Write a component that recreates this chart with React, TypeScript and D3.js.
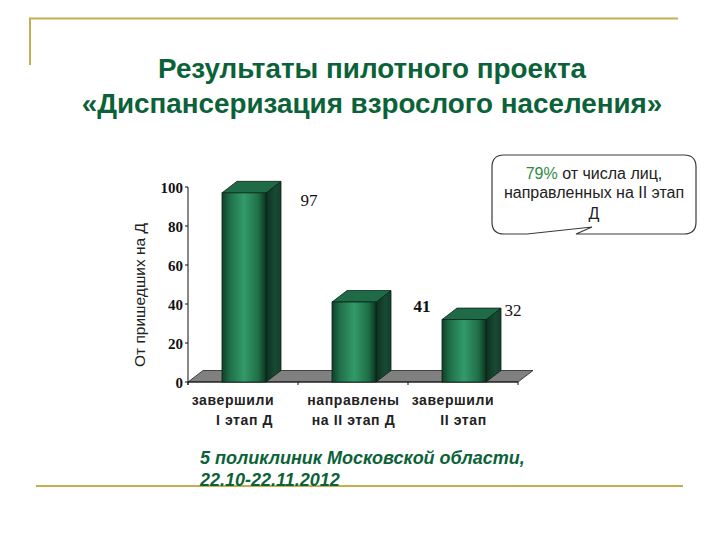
import React from "react";
import * as d3 from "d3";

const categories = ["a", "b", "c"];
const categoryLines = [["завершили", "I этап Д"], ["направлены", "на II этап Д"], ["завершили", "II этап"]];
const categoryLabelX = [[233, 244.5], [353.5, 353.5], [453, 463.5]];
const values = [97, 41, 32];
const valueLabels = ["97", "41", "32"];
const valueLabelPos = [[309, 206], [422, 312], [513, 316]];
const valueLabelWeight = ["normal", "bold", "normal"];
const yTicks = [0, 20, 40, 60, 80, 100];
const titleLines = ["Результаты пилотного проекта", "«Диспансеризация взрослого населения»"];
const calloutLines = ["от числа лиц,", "направленных на II этап", "Д"];
const noteLines = ["5 поликлиник Московской области,", "22.10-22.11.2012"];
const axisTitle = "От пришедших на Д";

const GREEN = "#0b6238";
const GOLD = "#c6ae4e";
const SANS = "'Liberation Sans', Arial, sans-serif";
const SERIF = "'Liberation Serif', 'Times New Roman', serif";

const x = d3.scaleBand<string>().domain(categories).range([188, 518]);
const y = d3.scaleLinear().domain([0, 100]).range([382, 187]);
const DX = 15;
const DY = 11.5;
const BAR = 44;
const poly = d3.line();

export default function App() {
  const floorY = y(0);
  const [xa, xb] = x.range();
  return (
    <svg width={720} height={540} style={{ position: "absolute", left: 0, top: 0, background: "#fff" }}>
      <defs>
        <linearGradient id="front" x1="0" x2="1" y1="0" y2="0">
          <stop offset="0" stopColor="#0f3f29" />
          <stop offset="0.18" stopColor="#1f7049" />
          <stop offset="0.5" stopColor="#339a69" />
          <stop offset="0.82" stopColor="#1f7049" />
          <stop offset="1" stopColor="#0c3522" />
        </linearGradient>
        <linearGradient id="side" x1="0" x2="1" y1="0" y2="0">
          <stop offset="0" stopColor="#0c3021" />
          <stop offset="0.6" stopColor="#184a33" />
          <stop offset="1" stopColor="#143f2b" />
        </linearGradient>
      </defs>

      {/* frame */}
      <path d="M30,65V18.5H678" fill="none" stroke={GOLD} strokeWidth={2} />
      <line x1={36} x2={683} y1={486} y2={486} stroke={GOLD} strokeWidth={2} />

      {/* title */}
      <g fontFamily={SANS} fontWeight="bold" fontSize={27.8} fill={GREEN} textAnchor="middle">
        {titleLines.map((t, i) => (
          <text key={i} x={372} y={78 + i * 35}>{t}</text>
        ))}
      </g>

      {/* floor */}
      <path
        d={poly([[xa, floorY], [xa + DX, floorY - DY], [xb + DX, floorY - DY], [xb, floorY]]) + "Z"}
        fill="#808080"
        stroke="#222"
        strokeWidth={0.8}
      />

      {/* axes */}
      <line x1={xa} x2={xa} y1={y(100)} y2={floorY + 3} stroke="#111" />
      <line x1={xa} x2={xb} y1={floorY} y2={floorY} stroke="#111" />
      {yTicks.map((t) => (
        <g key={t}>
          <line x1={xa - 3} x2={xa} y1={y(t)} y2={y(t)} stroke="#111" />
          <text x={xa - 5} y={y(t) + 6} textAnchor="end" fontFamily={SERIF} fontWeight="bold" fontSize={15} fill="#111">{t}</text>
        </g>
      ))}
      {d3.range(categories.length + 1).map((i) => {
        const tx = xa + i * x.step();
        return <line key={i} x1={tx} x2={tx} y1={floorY} y2={floorY + 3} stroke="#111" />;
      })}

      {/* bars */}
      {categories.map((c, i) => {
        const left = x(c)! + (x.bandwidth() - BAR) / 2 + 1;
        const right = left + BAR;
        const top = y(values[i]);
        return (
          <g key={c} stroke="#0a2418" strokeWidth={0.8}>
            <path d={poly([[right, top], [right + DX, top - DY], [right + DX, floorY - DY], [right, floorY]]) + "Z"} fill="url(#side)" />
            <path d={poly([[left, top], [left + DX, top - DY], [right + DX, top - DY], [right, top]]) + "Z"} fill="#1f6b47" />
            <rect x={left} y={top} width={BAR} height={floorY - top} fill="url(#front)" />
          </g>
        );
      })}

      {/* value labels */}
      {valueLabels.map((t, i) => (
        <text key={i} x={valueLabelPos[i][0]} y={valueLabelPos[i][1]} textAnchor="middle" fontFamily={SERIF} fontWeight={valueLabelWeight[i]} fontSize={17} fill="#111">{t}</text>
      ))}

      {/* category labels */}
      <g fontFamily={SANS} fontWeight="bold" fontSize={14} fill="#222" textAnchor="middle">
        {categoryLines.map((lines, i) =>
          lines.map((l, j) => (
            <text key={l + j} x={categoryLabelX[i][j]} y={405 + j * 20} letterSpacing={0.6}>{l}</text>
          ))
        )}
      </g>

      {/* y-axis title */}
      <text transform="translate(145,295) rotate(-90)" textAnchor="middle" fontFamily={SANS} fontSize={15.5} fill="#222">{axisTitle}</text>

      {/* callout */}
      <path
        d="M504,155H684Q696,155 696,167V222Q696,234 684,234H576L592,227L527,234H504Q492,234 492,222V167Q492,155 504,155Z"
        fill="#fff"
        stroke="#3a3a3a"
        strokeWidth={1.2}
      />
      <g fontFamily={SANS} fontSize={16} fill="#222" textAnchor="middle">
        <text x={594} y={179}>
          <tspan fill="#2e8b3c">79%</tspan> {calloutLines[0]}
        </text>
        <text x={594} y={198}>{calloutLines[1]}</text>
        <text x={594} y={219}>{calloutLines[2]}</text>
      </g>

      {/* note */}
      <g fontFamily={SANS} fontWeight="bold" fontStyle="italic" fontSize={18} fill={GREEN}>
        {noteLines.map((t, i) => (
          <text key={i} x={200} y={464 + i * 22}>{t}</text>
        ))}
      </g>
    </svg>
  );
}
